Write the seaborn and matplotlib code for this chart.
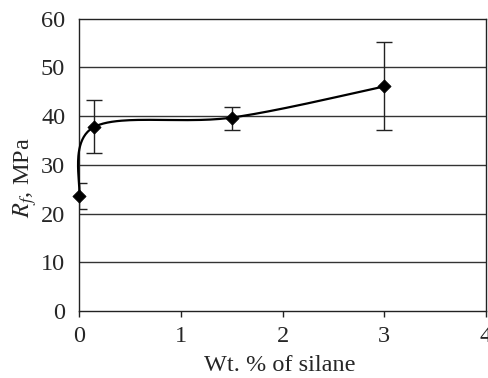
import numpy as np
import pandas as pd
import matplotlib
matplotlib.use("Agg")
import matplotlib.pyplot as plt
import seaborn as sns

# values
silane = [0, 0.15, 1.5, 3]
rf = [23.6, 37.8, 39.7, 46.1]
err_low = [21.0, 32.4, 37.2, 37.2]
err_high = [26.2, 43.4, 41.9, 55.2]
x_ticks = [0, 1, 2, 3, 4]
y_ticks = [0, 10, 20, 30, 40, 50, 60]


def excel_smooth(x, y, n=50):
    # bezier smoothing like the "smoothed line" option of a spreadsheet
    pts = np.column_stack([x, y]).astype(float)
    p = np.vstack([pts[0], pts, pts[-1]])
    out = []
    t = np.linspace(0, 1, n)[:, None]
    for i in range(1, len(p) - 2):
        p0, p1, p2, p3 = p[i - 1], p[i], p[i + 1], p[i + 2]
        c1 = p1 + (p2 - p0) / 6
        c2 = p2 - (p3 - p1) / 6
        seg = (1 - t) ** 3 * p1 + 3 * (1 - t) ** 2 * t * c1 + 3 * (1 - t) * t ** 2 * c2 + t ** 3 * p2
        out.append(seg if i == 1 else seg[1:])
    return np.vstack(out)


df = pd.DataFrame({"silane": silane, "rf": rf})
curve = excel_smooth(silane, rf)
cdf = pd.DataFrame({"x": curve[:, 0], "y": curve[:, 1]})

sns.set_style("white")
plt.rcParams["font.family"] = ["Liberation Serif", "DejaVu Serif"]
plt.rcParams["mathtext.fontset"] = "stix"
fs = 17.5

fig = plt.figure(figsize=(4.89, 3.78), dpi=100)
ax = fig.add_axes([0.1616, 0.1772, 0.8323, 0.7733])

for yv in y_ticks[1:-1]:
    ax.axhline(yv, color="#333333", lw=1.0, zorder=0)

ax.errorbar(silane, rf,
            yerr=[np.array(rf) - np.array(err_low), np.array(err_high) - np.array(rf)],
            fmt="none", ecolor="#222222", elinewidth=1.0, capsize=5.5, capthick=1.0, zorder=2)
sns.lineplot(data=cdf, x="x", y="y", sort=False, estimator=None, color="black",
             lw=1.6, ax=ax, zorder=3)
ax.lines[-1].set_clip_on(False)
sns.scatterplot(data=df, x="silane", y="rf", marker="D", s=45, color="black",
                edgecolor="black", ax=ax, zorder=4, clip_on=False)

ax.set_xlim(0, 4)
ax.set_ylim(0, 60)
ax.set_xticks(x_ticks)
ax.set_yticks(y_ticks)
ax.tick_params(axis="x", direction="out", length=4, width=1, color="#222222",
               labelsize=fs, pad=7, bottom=True)
ax.tick_params(axis="y", length=0, labelsize=fs, pad=10)
for s in ax.spines.values():
    s.set_color("#222222")
    s.set_linewidth(1.0)

ax.set_xlabel("Wt. % of silane", fontsize=fs)
ax.set_ylabel(r"$R_f$, MPa", fontsize=fs)
ax.xaxis.set_label_coords(0.494, -0.152)
ax.yaxis.set_label_coords(-0.098, 0.455)

fig.savefig("out.png", dpi=100)
